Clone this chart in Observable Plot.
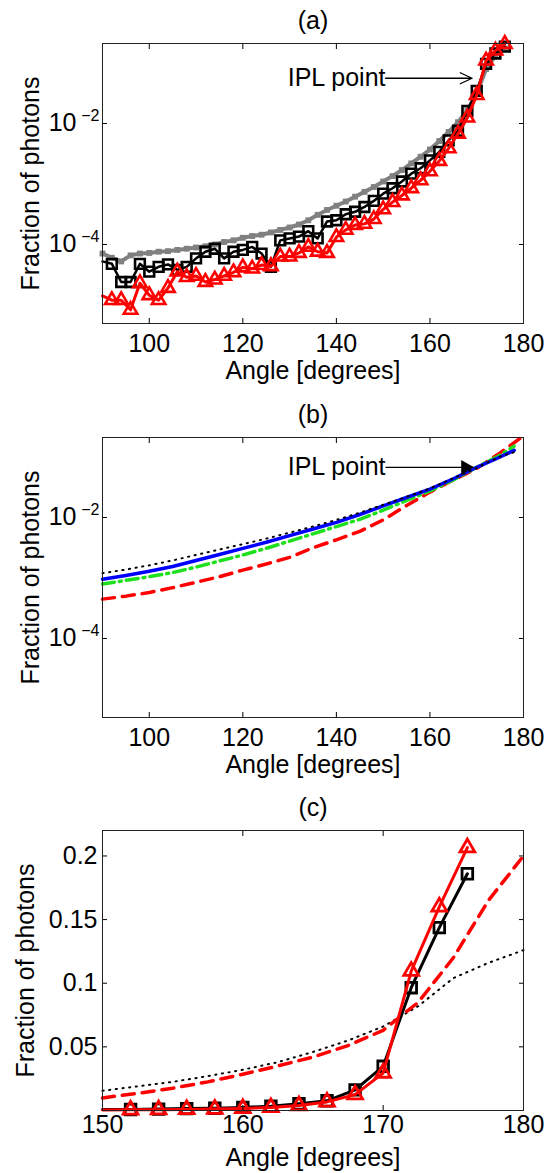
<!DOCTYPE html>
<html><head><meta charset="utf-8">
<script src="https://cdn.jsdelivr.net/npm/d3@7"></script>
<script src="https://cdn.jsdelivr.net/npm/@observablehq/plot@0.6"></script>
<style>
html,body{margin:0;padding:0;background:#fff;}
#chart svg{display:block;}
</style></head><body><div id="chart"></div>
<script>
// ---------- Panel (a): measured distributions (log scale) ----------
const anglesA = [90,92,94,96,98,100,102,104,106,108,110,112,114,116,118,120,122,124,126,128,130,132,134,136,138,140,142,144,146,148,150,152,154,156,158,160,162,164,166,168,170,172,174,176];
const squaresA = [5.25e-5,4.79e-5,2.40e-5,2.40e-5,4.79e-5,3.55e-5,4.27e-5,4.68e-5,3.80e-5,4.27e-5,5.89e-5,7.59e-5,8.51e-5,5.89e-5,7.59e-5,8.13e-5,9.12e-5,7.08e-5,4.27e-5,1.17e-4,1.26e-4,1.35e-4,1.66e-4,1.26e-4,2.40e-4,2.51e-4,3.16e-4,3.47e-4,4.17e-4,5.25e-4,6.92e-4,8.51e-4,1.10e-3,1.48e-3,1.82e-3,2.45e-3,3.39e-3,5.25e-3,7.59e-3,0.0162,0.0347,0.0965,0.1437,0.186];
const trianglesA = [1.41e-5,1.20e-5,1.20e-5,8.32e-6,2.29e-5,1.45e-5,1.20e-5,1.91e-5,3.55e-5,2.88e-5,3.02e-5,2.40e-5,2.63e-5,3.02e-5,3.47e-5,4.17e-5,3.98e-5,4.57e-5,4.37e-5,6.31e-5,6.31e-5,7.24e-5,9.12e-5,7.59e-5,7.24e-5,1.32e-4,1.74e-4,2.09e-4,2.19e-4,2.63e-4,3.80e-4,5.01e-4,6.46e-4,8.51e-4,1.15e-3,1.62e-3,2.40e-3,3.89e-3,6.76e-3,0.0125,0.0295,0.1095,0.160,0.2065];
const grayA = [7.08e-5,6.03e-5,5.25e-5,6.61e-5,7.08e-5,7.24e-5,7.59e-5,7.76e-5,8.13e-5,8.51e-5,8.91e-5,9.33e-5,1.00e-4,1.10e-4,1.17e-4,1.29e-4,1.38e-4,1.45e-4,1.58e-4,1.74e-4,1.91e-4,2.14e-4,2.51e-4,3.09e-4,3.72e-4,4.37e-4,5.13e-4,6.17e-4,7.41e-4,8.91e-4,1.10e-3,1.35e-3,1.70e-3,2.19e-3,2.82e-3,3.72e-3,5.13e-3,7.24e-3,1.05e-2,1.66e-2,3.16e-2,0.0794,0.132,0.174];

// ---------- Panel (b): model curves (log scale) ----------
const anglesB = [90,95,100,105,110,115,120,125,130,135,140,145,150,155,160,165,170,175,178];
const blueB = [9.55e-4,1.10e-3,1.29e-3,1.55e-3,1.95e-3,2.45e-3,3.09e-3,3.89e-3,5.01e-3,6.46e-3,8.32e-3,1.12e-2,1.55e-2,2.14e-2,2.95e-2,4.37e-2,6.76e-2,0.100,0.129];
const greenB = [7.94e-4,9.12e-4,1.05e-3,1.23e-3,1.51e-3,1.91e-3,2.40e-3,3.09e-3,4.07e-3,5.37e-3,7.08e-3,9.33e-3,1.32e-2,1.91e-2,2.75e-2,4.17e-2,6.76e-2,0.107,0.151];
const dottedB = [1.20e-3,1.38e-3,1.62e-3,1.95e-3,2.40e-3,2.95e-3,3.63e-3,4.47e-3,5.62e-3,7.08e-3,9.12e-3,1.20e-2,1.62e-2,2.19e-2,3.02e-2,4.47e-2,6.61e-2,0.102,0.120];
const anglesRedB = [90,95,100,105,110,115,120,125,130,135,140,145,150,155,160,165,170,175,179.5];
const redB = [4.47e-4,5.01e-4,5.75e-4,6.92e-4,8.51e-4,1.05e-3,1.35e-3,1.70e-3,2.19e-3,3.16e-3,4.27e-3,5.89e-3,9.12e-3,1.58e-2,2.63e-2,4.17e-2,6.46e-2,0.117,0.209];

// ---------- Panel (c): linear close-up ----------
const anglesC = [150,152.5,155,157.5,160,162.5,165,167.5,170,172.5,175,177.5,180];
const redDashC = [0.0099,0.0135,0.0175,0.0225,0.0285,0.035,0.042,0.051,0.063,0.085,0.120,0.165,0.2];
const dottedC = [0.0155,0.019,0.0225,0.027,0.032,0.038,0.046,0.055,0.066,0.082,0.104,0.116,0.126];

// ---------- axes / text ----------
const xDomainAB = [90, 180];
const xTicksAB = [100, 120, 140, 160, 180];
const yDomainLog = [4.94e-6, 0.21];
const yTicksLog = [1e-2, 1e-4];
const yTickExp = ["\u22122", "\u22124"];
const xDomainC = [150, 180];
const xTicksC = [150, 160, 170, 180];
const yDomainC = [0, 0.22];
const yTicksC = [0.05, 0.1, 0.15, 0.2];
const yTickLabelsC = ["0.05", "0.1", "0.15", "0.2"];
const titles = ["(a)", "(b)", "(c)"];
const xLabel = "Angle [degrees]";
const yLabel = "Fraction of photons";
const iplA = {text: "IPL point", x1: 150.5, x2: 169, y: 0.056};
const iplB = {text: "IPL point", x1: 150.5, x2: 169.3, y: 0.0675};

const FONT = "'Liberation Sans', Arial, Helvetica, sans-serif";
const FS = 25;
const RED = "#ff0000", GREEN = "#1fe01f", BLUE = "#0000ff", GRAY = "#808080";

const dataA = anglesA.map((a, i) => ({angle: a, sq: squaresA[i], tri: trianglesA[i], gray: grayA[i]}));
const dataB = anglesB.map((a, i) => ({angle: a, blue: blueB[i], green: greenB[i], dot: dottedB[i]}));
const dataRedB = anglesRedB.map((a, i) => ({angle: a, red: redB[i]}));
const dataC = anglesC.map((a, i) => ({angle: a, red: redDashC[i], dot: dottedC[i]}));
const dataAC = dataA.filter(d => d.angle >= xDomainC[0]);
const logTicks = yTicksLog.map((v, i) => ({v, exp: yTickExp[i]}));

function frameMarks(title, xTicks, yTicks, yLabelDx, xPad) {
  return [
    Plot.axisX({anchor: "bottom", ticks: xTicks, tickSize: -5, tickPadding: xPad, fontSize: FS, label: null, tickFormat: d => String(d)}),
    Plot.axisX({anchor: "top", ticks: xTicks, tickSize: -5, label: null, tickFormat: () => ""}),
    Plot.axisY({anchor: "right", ticks: yTicks, tickSize: -5, label: null, tickFormat: () => ""}),
    Plot.frame({stroke: "#222", strokeWidth: 1}),
    Plot.text([title], {frameAnchor: "top", dy: -23, text: d => d, fontSize: FS, lineAnchor: "middle", textAnchor: "middle"}),
    Plot.text([xLabel], {frameAnchor: "bottom", dy: 47, text: d => d, fontSize: FS, lineAnchor: "middle", textAnchor: "middle"}),
    Plot.text([yLabel], {frameAnchor: "left", dx: yLabelDx, rotate: -90, text: d => d, fontSize: FS, lineAnchor: "middle", textAnchor: "middle"})
  ];
}
function logYAxis() {
  return [
    Plot.axisY({anchor: "left", ticks: yTicksLog, tickSize: -5, label: null, tickFormat: () => ""}),
    Plot.text(logTicks, {y: "v", frameAnchor: "left", text: () => "10", textAnchor: "end", dx: -26, fontSize: FS}),
    Plot.text(logTicks, {y: "v", frameAnchor: "left", text: "exp", textAnchor: "end", dx: -3, dy: -8, fontSize: 16})
  ];
}
function iplMarks(ipl, filled) {
  const m = [
    Plot.text([ipl], {x: "x1", y: "y", text: "text", textAnchor: "end", fontSize: FS, lineAnchor: "middle"})
  ];
  if (filled) {
    m.push(Plot.link([ipl], {x1: "x1", x2: "x2", y1: "y", y2: "y", stroke: "black", strokeWidth: 1.2}));
    m.push(Plot.dot([ipl], {x: "x2", y: "y", symbol: "triangle", r: 5.5, fill: "black", rotate: 90, dx: -8}));
  } else {
    m.push(Plot.arrow([ipl], {x1: "x1", x2: "x2", y1: "y", y2: "y", stroke: "black", strokeWidth: 1.3, headLength: 15, headAngle: 50}));
  }
  return m;
}
const common = {width: 547, marginLeft: 102, marginRight: 24,
  style: {fontFamily: FONT, fontSize: FS + "px", background: "white", color: "black", overflow: "visible"}};

const plotA = Plot.plot({
  ...common, height: 390, marginTop: 43, marginBottom: 67,
  x: {domain: xDomainAB},
  y: {type: "log", domain: yDomainLog},
  marks: [
    Plot.line(dataA, {x: "angle", y: "gray", stroke: GRAY, strokeWidth: 4}),
    Plot.dot(dataA, {x: "angle", y: "gray", symbol: "square", r: 3.3, fill: GRAY}),
    Plot.line(dataA, {x: "angle", y: "sq", stroke: "black", strokeWidth: 2.5}),
    Plot.dot(dataA.filter(d => d.angle > xDomainAB[0]), {x: "angle", y: "sq", symbol: "square", r: 5.5, stroke: "black", strokeWidth: 2.6, fill: "none"}),
    Plot.line(dataA, {x: "angle", y: "tri", stroke: RED, strokeWidth: 3}),
    Plot.dot(dataA.filter(d => d.angle > xDomainAB[0]), {x: "angle", y: "tri", symbol: "triangle", r: 5, stroke: RED, strokeWidth: 2.6, fill: "none"}),
    ...iplMarks(iplA, false),
    ...logYAxis(),
    ...frameMarks(titles[0], xTicksAB, yTicksLog, -72, 16)
  ]
});

const plotB = Plot.plot({
  ...common, height: 390, marginTop: 47, marginBottom: 63,
  x: {domain: xDomainAB},
  y: {type: "log", domain: yDomainLog},
  marks: [
    Plot.line(dataRedB, {x: "angle", y: "red", stroke: RED, strokeWidth: 3.5, strokeDasharray: "12,8"}),
    Plot.line(dataB, {x: "angle", y: "green", stroke: GREEN, strokeWidth: 3.5, strokeDasharray: "12,5,2,5"}),
    Plot.line(dataB, {x: "angle", y: "blue", stroke: BLUE, strokeWidth: 3.5}),
    Plot.line(dataB, {x: "angle", y: "dot", stroke: "black", strokeWidth: 2, strokeDasharray: "1.2,5.5"}),
    ...iplMarks(iplB, true),
    ...logYAxis(),
    ...frameMarks(titles[1], xTicksAB, yTicksLog, -72, 16)
  ]
});

const plotC = Plot.plot({
  ...common, height: 393, marginTop: 50, marginBottom: 63,
  x: {domain: xDomainC},
  y: {domain: yDomainC},
  marks: [
    Plot.line(dataC, {x: "angle", y: "dot", stroke: "black", strokeWidth: 2, strokeDasharray: "1.2,5.5"}),
    Plot.line(dataC, {x: "angle", y: "red", stroke: RED, strokeWidth: 3.5, strokeDasharray: "12,8"}),
    Plot.line(dataAC, {x: "angle", y: "sq", stroke: "black", strokeWidth: 3}),
    Plot.dot(dataAC.filter(d => d.angle > xDomainC[0]), {x: "angle", y: "sq", symbol: "square", r: 6, stroke: "black", strokeWidth: 2.8, fill: "none"}),
    Plot.line(dataAC, {x: "angle", y: "tri", stroke: RED, strokeWidth: 3}),
    Plot.dot(dataAC.filter(d => d.angle > xDomainC[0]), {x: "angle", y: "tri", symbol: "triangle", r: 5.5, stroke: RED, strokeWidth: 2.8, fill: "none"}),
    Plot.axisY({anchor: "left", ticks: yTicksC, tickSize: -5, tickPadding: 10, fontSize: FS, label: null,
      tickFormat: d => yTickLabelsC[yTicksC.indexOf(d)]}),
    ...frameMarks(titles[2], xTicksC, yTicksC, -77, 10)
  ]
});

const root = document.getElementById("chart");
root.append(plotA, plotB, plotC);
</script>
</body></html>
